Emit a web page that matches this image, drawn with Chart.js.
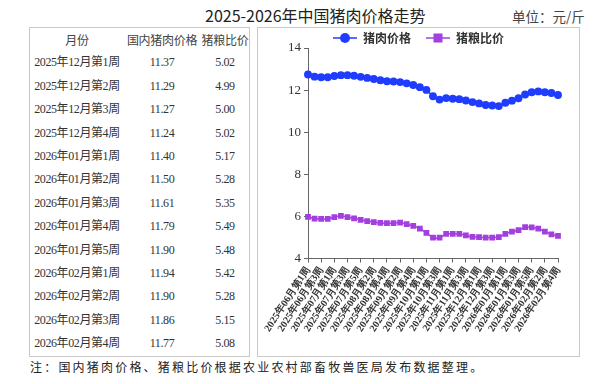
<!DOCTYPE html>
<html>
<head>
<meta charset="utf-8">
<script src="https://cdn.jsdelivr.net/npm/chart.js@4.4.1/dist/chart.umd.min.js"></script>
<style>
body{margin:0;width:605px;height:384px;background:#fff;position:relative;overflow:hidden;font-family:"Noto Sans CJK SC",sans-serif;}
#titulo{position:absolute;left:205px;top:3px;font-size:16px;color:#222;white-space:nowrap;}
#unidade{position:absolute;left:512px;top:6px;font-size:13.5px;color:#444;white-space:nowrap;}
#tabela{position:absolute;left:29px;top:27px;width:221px;height:330px;border:1px solid #c8c8c8;box-sizing:border-box;}
.linha{position:absolute;left:0;height:23.4px;line-height:23.4px;width:219px;font-family:"Liberation Serif","Noto Sans CJK SC",serif;font-size:12px;color:#333;letter-spacing:-0.4px;}
.linha span{position:absolute;top:0;text-align:center;white-space:nowrap;}
.cab{font-family:"Noto Sans CJK SC",sans-serif;color:#444;letter-spacing:-0.3px;}
#caixa{position:absolute;left:257px;top:27px;width:323px;height:330px;border:1px solid #c8c8c8;box-sizing:border-box;}
#nota{position:absolute;left:30px;top:358px;font-size:12px;color:#222;letter-spacing:2.2px;white-space:nowrap;}
</style>
</head>
<body>
<div id="titulo">2025-2026年中国猪肉价格走势</div>
<div id="unidade">单位：元/斤</div>
<div id="tabela"></div>
<div id="caixa"><canvas id="grafico" width="321" height="328"></canvas></div>
<div id="nota">注：国内猪肉价格、猪粮比价根据农业农村部畜牧兽医局发布数据整理。</div>
<script>
// semanas (eixo x)
var semanas = [
	'2025年06月第1周','2025年06月第2周','2025年06月第3周','2025年06月第4周',
	'2025年07月第1周','2025年07月第2周','2025年07月第3周','2025年07月第4周','2025年07月第5周',
	'2025年08月第1周','2025年08月第2周','2025年08月第3周','2025年08月第4周',
	'2025年09月第1周','2025年09月第2周','2025年09月第3周','2025年09月第4周','2025年09月第5周',
	'2025年10月第1周','2025年10月第2周','2025年10月第3周','2025年10月第4周',
	'2025年11月第1周','2025年11月第2周','2025年11月第3周','2025年11月第4周',
	'2025年12月第1周','2025年12月第2周','2025年12月第3周','2025年12月第4周',
	'2026年01月第1周','2026年01月第2周','2026年01月第3周','2026年01月第4周','2026年01月第5周',
	'2026年02月第1周','2026年02月第2周','2026年02月第3周','2026年02月第4周'
];

// 猪肉价格 (元/斤)
var precoCarne = [12.74, 12.64, 12.61, 12.61, 12.67, 12.71, 12.71, 12.68, 12.63,
	12.58, 12.53, 12.47, 12.42, 12.41, 12.38, 12.32, 12.24, 12.14,
	12.01, 11.71, 11.55, 11.62, 11.59, 11.57, 11.51, 11.43,
	11.37, 11.29, 11.27, 11.24, 11.40, 11.50, 11.61, 11.79, 11.90,
	11.94, 11.90, 11.86, 11.77];

// 猪粮比价
var relacao = [5.98, 5.90, 5.88, 5.89, 5.97, 6.03, 5.97, 5.91, 5.84,
	5.78, 5.73, 5.69, 5.68, 5.68, 5.71, 5.63, 5.55, 5.42,
	5.22, 4.99, 4.99, 5.17, 5.17, 5.17, 5.10, 5.03,
	5.02, 4.99, 5.00, 5.02, 5.17, 5.28, 5.35, 5.49, 5.48,
	5.42, 5.28, 5.15, 5.08];

var ticksY = [4, 6, 8, 10, 12, 14];
var nomes = ['猪肉价格', '猪粮比价'];
var cabecalho = ['月份', '国内猪肉价格', '猪粮比价'];
var inicioTabela = 26; // tabela mostra as ultimas 13 semanas

var azul = '#1f3cff';
var roxo = '#a33fdf';

function montarTabela(){
	var tab = document.getElementById('tabela');
	var cols = [[0, 94], [94, 76], [170, 50]];
	var linhas = [cabecalho];
	for (var i = inicioTabela; i < semanas.length; i++) {
		linhas.push([semanas[i], precoCarne[i].toFixed(2), relacao[i].toFixed(2)]);
	}
	for (var r = 0; r < linhas.length; r++) {
		var div = document.createElement('div');
		div.className = 'linha' + (r == 0 ? ' cab' : '');
		div.style.top = (r * 23.4) + 'px';
		for (var c = 0; c < 3; c++) {
			var s = document.createElement('span');
			s.style.left = cols[c][0] + 'px';
			s.style.width = cols[c][1] + 'px';
			s.textContent = linhas[r][c];
			div.appendChild(s);
		}
		tab.appendChild(div);
	}
}

// icone da legenda: linha com marcador (espaco vazio a esquerda separa os itens)
function iconeLegenda(cor, forma){
	var cv = document.createElement('canvas');
	cv.width = 35; cv.height = 12;
	var g = cv.getContext('2d');
	g.strokeStyle = cor; g.lineWidth = 1.5;
	g.beginPath(); g.moveTo(11, 6); g.lineTo(35, 6); g.stroke();
	g.fillStyle = cor;
	if (forma == 'circle') {
		g.beginPath(); g.arc(23, 6, 5, 0, Math.PI * 2); g.fill();
	} else {
		g.fillRect(18.5, 1.5, 9, 9);
	}
	return cv;
}

// legenda mais baixa (o chart.js soma 10px por padrao)
var ajusteLegenda = {
	id: 'ajusteLegenda',
	beforeLayout: function(chart){
		var lg = chart.legend;
		if (lg && !lg._ajustado) {
			var fitOriginal = lg.fit;
			lg.fit = function(){ fitOriginal.call(this); this.height = 20; };
			lg._ajustado = true;
		}
	}
};

function exibirGrafico(){
	var type = 'line';

	var data = {
		labels: semanas,
		datasets: [
			{
				label: nomes[0],
				data: precoCarne,
				borderColor: azul,
				backgroundColor: azul,
				borderWidth: 1.5,
				pointRadius: 3.2,
				pointStyle: 'circle',
				tension: 0.3
			},
			{
				label: nomes[1],
				data: relacao,
				borderColor: roxo,
				backgroundColor: roxo,
				borderWidth: 1.5,
				pointRadius: 3.0,
				pointStyle: 'rect',
				tension: 0.3
			}
		]
	};

	var icones = [iconeLegenda(azul, 'circle'), iconeLegenda(roxo, 'rect')];

	var options = {
		responsive: false,
		animation: false,
		layout: { padding: { left: 10, right: 21, top: 0, bottom: 20 } },
		plugins: {
			tooltip: { enabled: false },
			legend: {
				display: true,
				labels: {
					usePointStyle: true,
					pointStyleWidth: 35,
					padding: 4,
					color: '#333',
					font: { family: 'Noto Sans CJK SC', size: 12, weight: 'bold' },
					generateLabels: function(chart){
						return chart.data.datasets.map(function(ds, i){
							return { text: ds.label, pointStyle: icones[i], fontColor: '#333',
								strokeStyle: ds.borderColor, fillStyle: ds.backgroundColor,
								lineWidth: 0, datasetIndex: i };
						});
					}
				}
			}
		},
		scales: {
			x: {
				offset: false,
				border: { color: '#666', width: 1 },
				grid: {
					drawOnChartArea: false,
					tickLength: 4,
					color: function(c){ return c.index % 2 === 0 ? '#666' : 'rgba(0,0,0,0)'; }
				},
				ticks: {
					autoSkip: false,
					maxRotation: 57,
					minRotation: 57,
					padding: 2,
					color: '#333',
					font: { family: 'Liberation Serif', size: 10, weight: 'bold' },
					callback: function(v, i){ return i % 2 === 0 ? semanas[i] : ''; }
				}
			},
			y: {
				min: ticksY[0],
				max: ticksY[ticksY.length - 1],
				border: { color: '#666', width: 1 },
				grid: { drawOnChartArea: false, tickLength: 4, color: '#666' },
				afterBuildTicks: function(axis){
					axis.ticks = ticksY.map(function(v){ return { value: v }; });
				},
				afterFit: function(axis){ axis.width = 40; },
				ticks: {
					padding: 3,
					color: '#333',
					font: { family: 'Liberation Serif', size: 13 }
				}
			}
		}
	};

	var ctx = document.getElementById('grafico').getContext('2d');
	new Chart(ctx, {type, data, options, plugins: [ajusteLegenda]});
}

montarTabela();
exibirGrafico();
</script>
</body>
</html>
